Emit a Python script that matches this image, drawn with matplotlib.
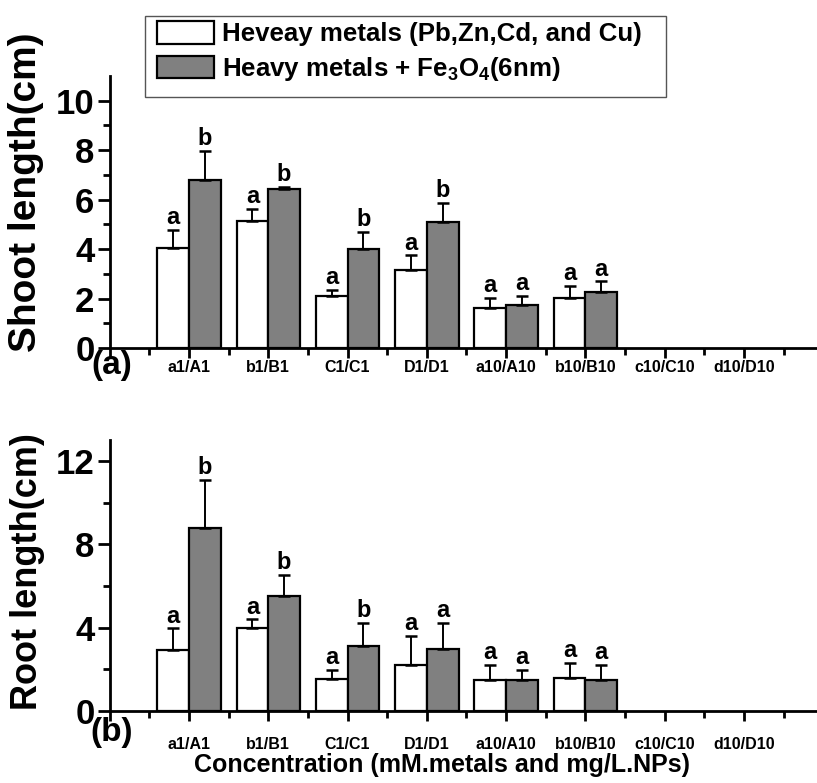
#  SHOOT / ROOT LENGTH BAR CHART (heavy metals vs heavy metals + Fe3O4)

import numpy as np
import matplotlib
matplotlib.use('Agg')
import matplotlib.pyplot as plt
from matplotlib.ticker import FixedLocator
from matplotlib.patches import Rectangle

plt.rcParams['font.family'] = ['Liberation Sans', 'DejaVu Sans']
plt.rcParams['font.weight'] = 'bold'
plt.rcParams['mathtext.fontset'] = 'custom'
plt.rcParams['mathtext.rm'] = 'Liberation Sans:bold'
plt.rcParams['mathtext.default'] = 'rm'

# data
categories = ['a1/A1', 'b1/B1', 'C1/C1', 'D1/D1', 'a10/A10', 'b10/B10', 'c10/C10', 'd10/D10']
series_names = ['Heveay metals (Pb,Zn,Cd, and Cu)', 'Heavy metals + Fe$_3$O$_4$(6nm)']

shoot_hm = [4.05, 5.12, 2.11, 3.14, 1.60, 2.03]
shoot_hm_err = [0.72, 0.51, 0.24, 0.61, 0.43, 0.49]
shoot_np = [6.79, 6.42, 4.02, 5.08, 1.72, 2.28]
shoot_np_err = [1.19, 0.10, 0.68, 0.79, 0.39, 0.41]
shoot_hm_sig = ['a', 'a', 'a', 'a', 'a', 'a']
shoot_np_sig = ['b', 'b', 'b', 'b', 'a', 'a']

root_hm = [2.95, 3.99, 1.55, 2.23, 1.47, 1.60]
root_hm_err = [1.01, 0.40, 0.43, 1.39, 0.76, 0.70]
root_np = [8.78, 5.50, 3.14, 2.97, 1.47, 1.47]
root_np_err = [2.31, 1.04, 1.08, 1.25, 0.51, 0.76]
root_hm_sig = ['a', 'a', 'a', 'a', 'a', 'a']
root_np_sig = ['b', 'b', 'b', 'a', 'a', 'a']

W, H = 817, 783
GRAY = '#808080'


def draw_pair(ax, vals, errs, sigs, offset, color, label):
    x = np.arange(1, len(vals) + 1) + offset
    ax.bar(x, vals, 0.4, color=color, edgecolor='black', linewidth=1.6, label=label,
           yerr=[np.zeros(len(vals)), errs],
           error_kw=dict(ecolor='black', elinewidth=1.4, capsize=4.5, capthick=1.8))
    for xi, v, e, s in zip(x, vals, errs, sigs):
        ax.annotate(s, (xi, v + e), xytext=(0, 4), textcoords='offset points',
                    ha='center', va='baseline', fontsize=17)


def panel(ax, hm, hm_err, npv, np_err, hm_sig, np_sig, ymax, majors, minors, lab_pad):
    draw_pair(ax, hm, hm_err, hm_sig, -0.2, 'white', series_names[0])
    draw_pair(ax, npv, np_err, np_sig, 0.2, GRAY, series_names[1])

    ax.set_xlim(0, 9)
    ax.set_ylim(0, ymax)
    for s in ['top', 'right']:
        ax.spines[s].set_visible(False)
    for s in ['left', 'bottom']:
        ax.spines[s].set_linewidth(2.0)

    ax.xaxis.set_major_locator(FixedLocator(range(0, 10)))
    ax.xaxis.set_minor_locator(FixedLocator(np.arange(0.5, 9, 1)))
    ax.set_xticklabels([''] + categories + [''], fontsize=11.5)
    ax.yaxis.set_major_locator(FixedLocator(majors))
    ax.yaxis.set_minor_locator(FixedLocator(minors))
    ax.tick_params(axis='y', which='major', length=9, width=2.0, labelsize=25, pad=2)
    ax.tick_params(axis='y', which='minor', length=5, width=2.0)
    ax.tick_params(axis='x', which='major', length=7, width=2.0, pad=lab_pad)
    ax.tick_params(axis='x', which='minor', length=5, width=2.0)


fig = plt.figure(figsize=(W / 100, H / 100), dpi=100)

ax1 = fig.add_axes([109.7 / W, (H - 348) / H, 713.6 / W, 272 / H])
panel(ax1, shoot_hm, shoot_hm_err, shoot_np, shoot_np_err, shoot_hm_sig, shoot_np_sig,
      11, [0, 2, 4, 6, 8, 10], [1, 3, 5, 7, 9], 2)

ax2 = fig.add_axes([109.7 / W, (H - 711) / H, 713.6 / W, 271 / H])
panel(ax2, root_hm, root_hm_err, root_np, root_np_err, root_hm_sig, root_np_sig,
      13, [0, 4, 8, 12], [2, 6, 10], 12)

# labels
fig.text(26 / W, 1 - 192 / H, 'Shoot length(cm)', rotation=90, fontsize=28, ha='center', va='center')
fig.text(28 / W, 1 - 572 / H, 'Root length(cm)', rotation=90, fontsize=26, ha='center', va='center')
fig.text(112 / W, 1 - 366 / H, '(a)', fontsize=24, ha='center', va='center')
fig.text(112 / W, 1 - 733 / H, '(b)', fontsize=24, ha='center', va='center')
fig.text(442 / W, 1 - 765 / H, 'Concentration (mM.metals and mg/L.NPs)', fontsize=18, ha='center', va='center')

# legend box drawn by hand (reference frame is wider than its text)
fig.patches.append(Rectangle((145 / W, 1 - 97 / H), 521 / W, 81 / H, transform=fig.transFigure,
                             facecolor='white', edgecolor='#555555', linewidth=1.0, zorder=5))
handles, labels = ax1.get_legend_handles_labels()
leg = fig.legend(handles, labels, loc='upper left', bbox_to_anchor=(157 / W, 1 - 21 / H),
                 fontsize=18.6, handlelength=2.2, handleheight=0.97, labelspacing=0.33,
                 borderpad=0, handletextpad=0.3, frameon=False, borderaxespad=0)
leg.set_zorder(6)

fig.savefig('out.png', dpi=100, facecolor='white')
